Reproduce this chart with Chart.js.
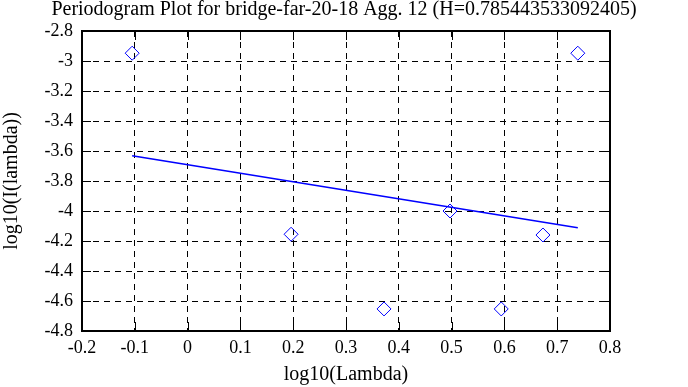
<!DOCTYPE html>
<html>
<head>
<meta charset="utf-8">
<script src="https://cdn.jsdelivr.net/npm/chart.js@4"></script>
<style>
html,body{margin:0;padding:0;background:#fff;}
#wrap{width:688px;height:387px;}
</style>
</head>
<body>
<div id="wrap"><canvas id="c" width="688" height="387"></canvas></div>
<script>
const titleText = 'Periodogram Plot for bridge-far-20-18 Agg. 12 (H=0.785443533092405)';
const xLabel = 'log10(Lambda)';
const yLabel = 'log10(I(lambda))';
const xVals = [-0.105, 0.196, 0.372, 0.497, 0.594, 0.673, 0.739];
const yVals = [-2.948, -4.155, -4.653, -4.0, -4.653, -4.16, -2.948];
const fitX = [-0.105, 0.739];
const fitY = [-3.631, -4.111];
const xRange = [-0.2, 0.8, 0.1];
const yRange = [-4.8, -2.8, 0.2];

const FONT = "'Liberation Serif', 'Times New Roman', serif";
const fmt = v => String(parseFloat(Number(v).toFixed(1)));

const frame = {
  id: 'frame',
  afterDatasetsDraw(chart) {
    const {ctx, chartArea: a, scales} = chart;
    ctx.save();
    ctx.strokeStyle = '#000';
    ctx.lineWidth = 1;
    ctx.setLineDash([]);
    const L = 9;
    scales.x.ticks.forEach(t => {
      const px = Math.round(scales.x.getPixelForValue(t.value)) + 0.5;
      ctx.beginPath();
      ctx.moveTo(px, a.bottom); ctx.lineTo(px, a.bottom - L);
      ctx.moveTo(px, a.top); ctx.lineTo(px, a.top + L);
      ctx.stroke();
    });
    scales.y.ticks.forEach(t => {
      const py = Math.round(scales.y.getPixelForValue(t.value)) + 0.5;
      ctx.beginPath();
      ctx.moveTo(a.left, py); ctx.lineTo(a.left + L, py);
      ctx.moveTo(a.right, py); ctx.lineTo(a.right - L, py);
      ctx.stroke();
    });
    ctx.lineWidth = 2;
    ctx.strokeRect(a.left, a.top, a.right - a.left, a.bottom - a.top);
    ctx.restore();
  }
};

new Chart(document.getElementById('c'), {
  type: 'scatter',
  data: {
    datasets: [
      {
        type: 'line',
        data: fitX.map((x, i) => ({x, y: fitY[i]})),
        borderColor: '#0000ff',
        borderWidth: 1.5,
        pointRadius: 0,
        fill: false,
        tension: 0
      },
      {
        data: xVals.map((x, i) => ({x, y: yVals[i]})),
        pointStyle: 'rectRot',
        pointRadius: 7,
        pointHoverRadius: 7,
        borderColor: '#0000ff',
        backgroundColor: 'rgba(0,0,0,0)',
        pointBorderWidth: 1,
        borderWidth: 1
      }
    ]
  },
  options: {
    responsive: false,
    animation: false,
    devicePixelRatio: 1,
    layout: {padding: {left: 0, right: 0, top: 0, bottom: 0}},
    plugins: {
      legend: {display: false},
      tooltip: {enabled: false},
      title: {
        display: true,
        text: titleText,
        color: '#000',
        font: {family: FONT, size: 20, weight: 'normal', lineHeight: 1.0},
        padding: {top: 0, bottom: 11}
      }
    },
    scales: {
      x: {
        type: 'linear',
        min: xRange[0], max: xRange[1],
        afterFit: s => { s.height = 56; },
        ticks: {stepSize: xRange[2], color: '#000', font: {family: FONT, size: 18}, padding: 6, callback: fmt, maxRotation: 0},
        grid: {color: '#000', lineWidth: 1, drawTicks: false},
        border: {display: false, dash: [6, 5]},
        title: {display: true, text: xLabel, color: '#000', font: {family: FONT, size: 20}, padding: {top: 0, bottom: 0}}
      },
      y: {
        type: 'linear',
        min: yRange[0], max: yRange[1],
        afterFit: s => { s.width = 82; },
        ticks: {stepSize: yRange[2], color: '#000', font: {family: FONT, size: 18}, padding: 9, callback: fmt},
        grid: {color: '#000', lineWidth: 1, drawTicks: false},
        border: {display: false, dash: [6, 5]},
        title: {display: true, text: yLabel, color: '#000', font: {family: FONT, size: 20}, padding: {top: 0, bottom: 0}}
      },
      yRightSpace: {
        type: 'linear',
        position: 'right',
        display: true,
        afterFit: s => { s.width = 78; },
        ticks: {display: false},
        grid: {display: false, drawTicks: false},
        border: {display: false},
        title: {display: false}
      }
    }
  },
  plugins: [frame]
});
</script>
</body>
</html>
